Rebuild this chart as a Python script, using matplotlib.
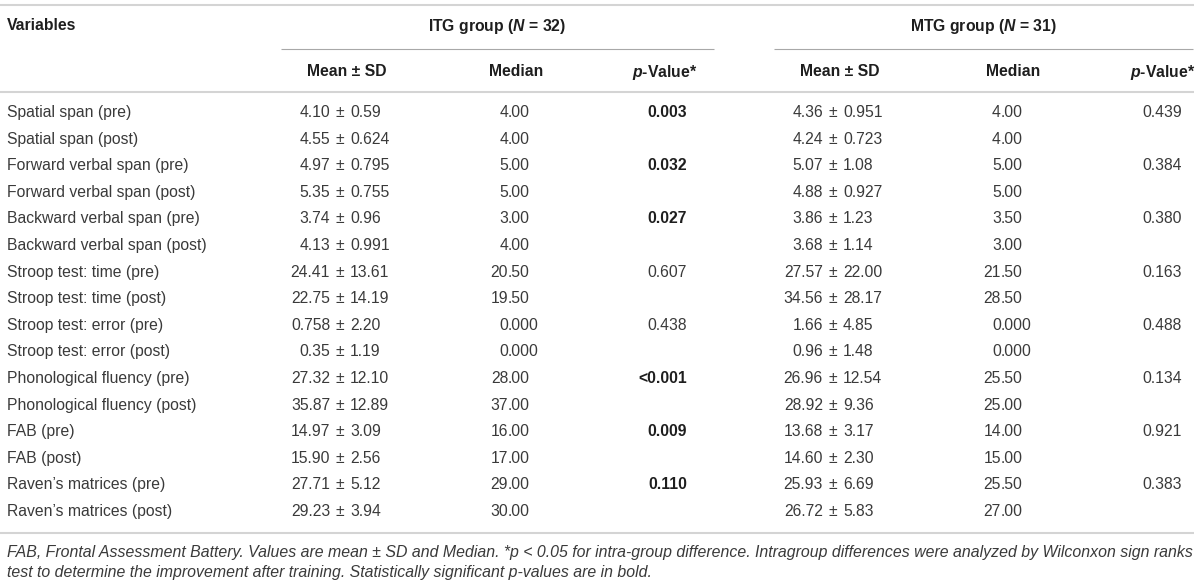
import matplotlib
matplotlib.use('Agg')
import matplotlib.pyplot as plt

plt.rcParams['font.family'] = ['Liberation Sans', 'DejaVu Sans']
plt.rcParams['mathtext.fontset'] = 'custom'
plt.rcParams['mathtext.rm'] = 'Liberation Sans:bold'
plt.rcParams['mathtext.it'] = 'Liberation Sans:bold:italic'
plt.rcParams['mathtext.bf'] = 'Liberation Sans:bold'

# datos de la tabla
variables = ['Spatial span (pre)', 'Spatial span (post)',
             'Forward verbal span (pre)', 'Forward verbal span (post)',
             'Backward verbal span (pre)', 'Backward verbal span (post)',
             'Stroop test: time (pre)', 'Stroop test: time (post)',
             'Stroop test: error (pre)', 'Stroop test: error (post)',
             'Phonological fluency (pre)', 'Phonological fluency (post)',
             'FAB (pre)', 'FAB (post)',
             "Raven\u2019s matrices (pre)", "Raven\u2019s matrices (post)"]

itg_mean = ['4.10', '4.55', '4.97', '5.35', '3.74', '4.13', '24.41', '22.75',
            '0.758', '0.35', '27.32', '35.87', '14.97', '15.90', '27.71', '29.23']
itg_sd = ['0.59', '0.624', '0.795', '0.755', '0.96', '0.991', '13.61', '14.19',
          '2.20', '1.19', '12.10', '12.89', '3.09', '2.56', '5.12', '3.94']
itg_median = ['4.00', '4.00', '5.00', '5.00', '3.00', '4.00', '20.50', '19.50',
              '0.000', '0.000', '28.00', '37.00', '16.00', '17.00', '29.00', '30.00']
itg_p = ['0.003', '', '0.032', '', '0.027', '', '0.607', '', '0.438', '',
         '<0.001', '', '0.009', '', '0.110', '']
itg_p_bold = [True, False, True, False, True, False, False, False, False, False,
              True, False, True, False, True, False]

mtg_mean = ['4.36', '4.24', '5.07', '4.88', '3.86', '3.68', '27.57', '34.56',
            '1.66', '0.96', '26.96', '28.92', '13.68', '14.60', '25.93', '26.72']
mtg_sd = ['0.951', '0.723', '1.08', '0.927', '1.23', '1.14', '22.00', '28.17',
          '4.85', '1.48', '12.54', '9.36', '3.17', '2.30', '6.69', '5.83']
mtg_median = ['4.00', '4.00', '5.00', '5.00', '3.50', '3.00', '21.50', '28.50',
              '0.000', '0.000', '25.50', '25.00', '14.00', '15.00', '25.50', '27.00']
mtg_p = ['0.439', '', '0.384', '', '0.380', '', '0.163', '', '0.488', '',
         '0.134', '', '0.921', '', '0.383', '']

footnote = ['FAB, Frontal Assessment Battery. Values are mean \u00b1 SD and Median. *p < 0.05 for intra-group difference. '
            'Intragroup differences were analyzed by Wilconxon sign ranks',
            'test to determine the improvement after training. Statistically significant p-values are in bold.']

fs = 11.3
body = '#3a3a3a'
head = '#1e1e1e'

fig = plt.figure(figsize=(12, 5.85), dpi=100)
ax = fig.add_axes([0, 0, 1, 1])
ax.set_xlim(0, 1200)
ax.set_ylim(585, 0)
ax.axis('off')

# lineas horizontales
ax.hlines([5, 92, 533], 0, 1194, color='#d4d4d4', lw=1.5)
ax.hlines(49, 281, 714, color='#a8a8a8', lw=0.8)
ax.hlines(49, 774, 1193, color='#a8a8a8', lw=0.8)

# encabezados
ax.text(7, 26, 'Variables', fontsize=fs, fontweight='bold', color=head, va='center')
ax.text(497, 26, r'ITG group ($N$ = 32)', fontsize=fs, fontweight='bold', color=head,
        va='center', ha='center')
ax.text(983, 26, r'MTG group ($N$ = 31)', fontsize=fs, fontweight='bold', color=head,
        va='center', ha='center')

sub_x = [347, 516, 665, 840, 1013, 1163]
sub_lbl = ['Mean \u00b1 SD', 'Median', r'$p$-Value*'] * 2
for x, lbl in zip(sub_x, sub_lbl):
    ax.text(x, 72, lbl, fontsize=fs, fontweight='bold', color=head, va='center', ha='center')

row0 = 112.5
dy = 26.6

def celda_media(x_pm, m, s, y):
    ax.text(x_pm - 10, y, m, fontsize=fs, color=body, va='center', ha='right')
    ax.text(x_pm, y, '\u00b1', fontsize=fs, color=body, va='center', ha='center')
    ax.text(x_pm + 10, y, s, fontsize=fs, color=body, va='center', ha='left')

def celda_mediana(x_dec, val, y):
    ent, dec = val.split('.')
    ax.text(x_dec, y, ent, fontsize=fs, color=body, va='center', ha='right')
    ax.text(x_dec, y, '.' + dec, fontsize=fs, color=body, va='center', ha='left')

for i, var in enumerate(variables):
    y = row0 + i * dy
    ax.text(7, y, var, fontsize=fs, color=body, va='center')
    celda_media(340, itg_mean[i], itg_sd[i], y)
    celda_mediana(508, itg_median[i], y)
    if itg_p[i]:
        ax.text(687, y, itg_p[i], fontsize=fs, va='center', ha='right',
                fontweight='bold' if itg_p_bold[i] else 'normal',
                color=head if itg_p_bold[i] else body)
    celda_media(833, mtg_mean[i], mtg_sd[i], y)
    celda_mediana(1001, mtg_median[i], y)
    if mtg_p[i]:
        ax.text(1182, y, mtg_p[i], fontsize=fs, color=body, va='center', ha='right')

ax.text(7, 553, footnote[0], fontsize=11.45, style='italic', color=body, va='center')
ax.text(7, 573, footnote[1], fontsize=11.45, style='italic', color=body, va='center')

fig.savefig('out.png', dpi=100)
